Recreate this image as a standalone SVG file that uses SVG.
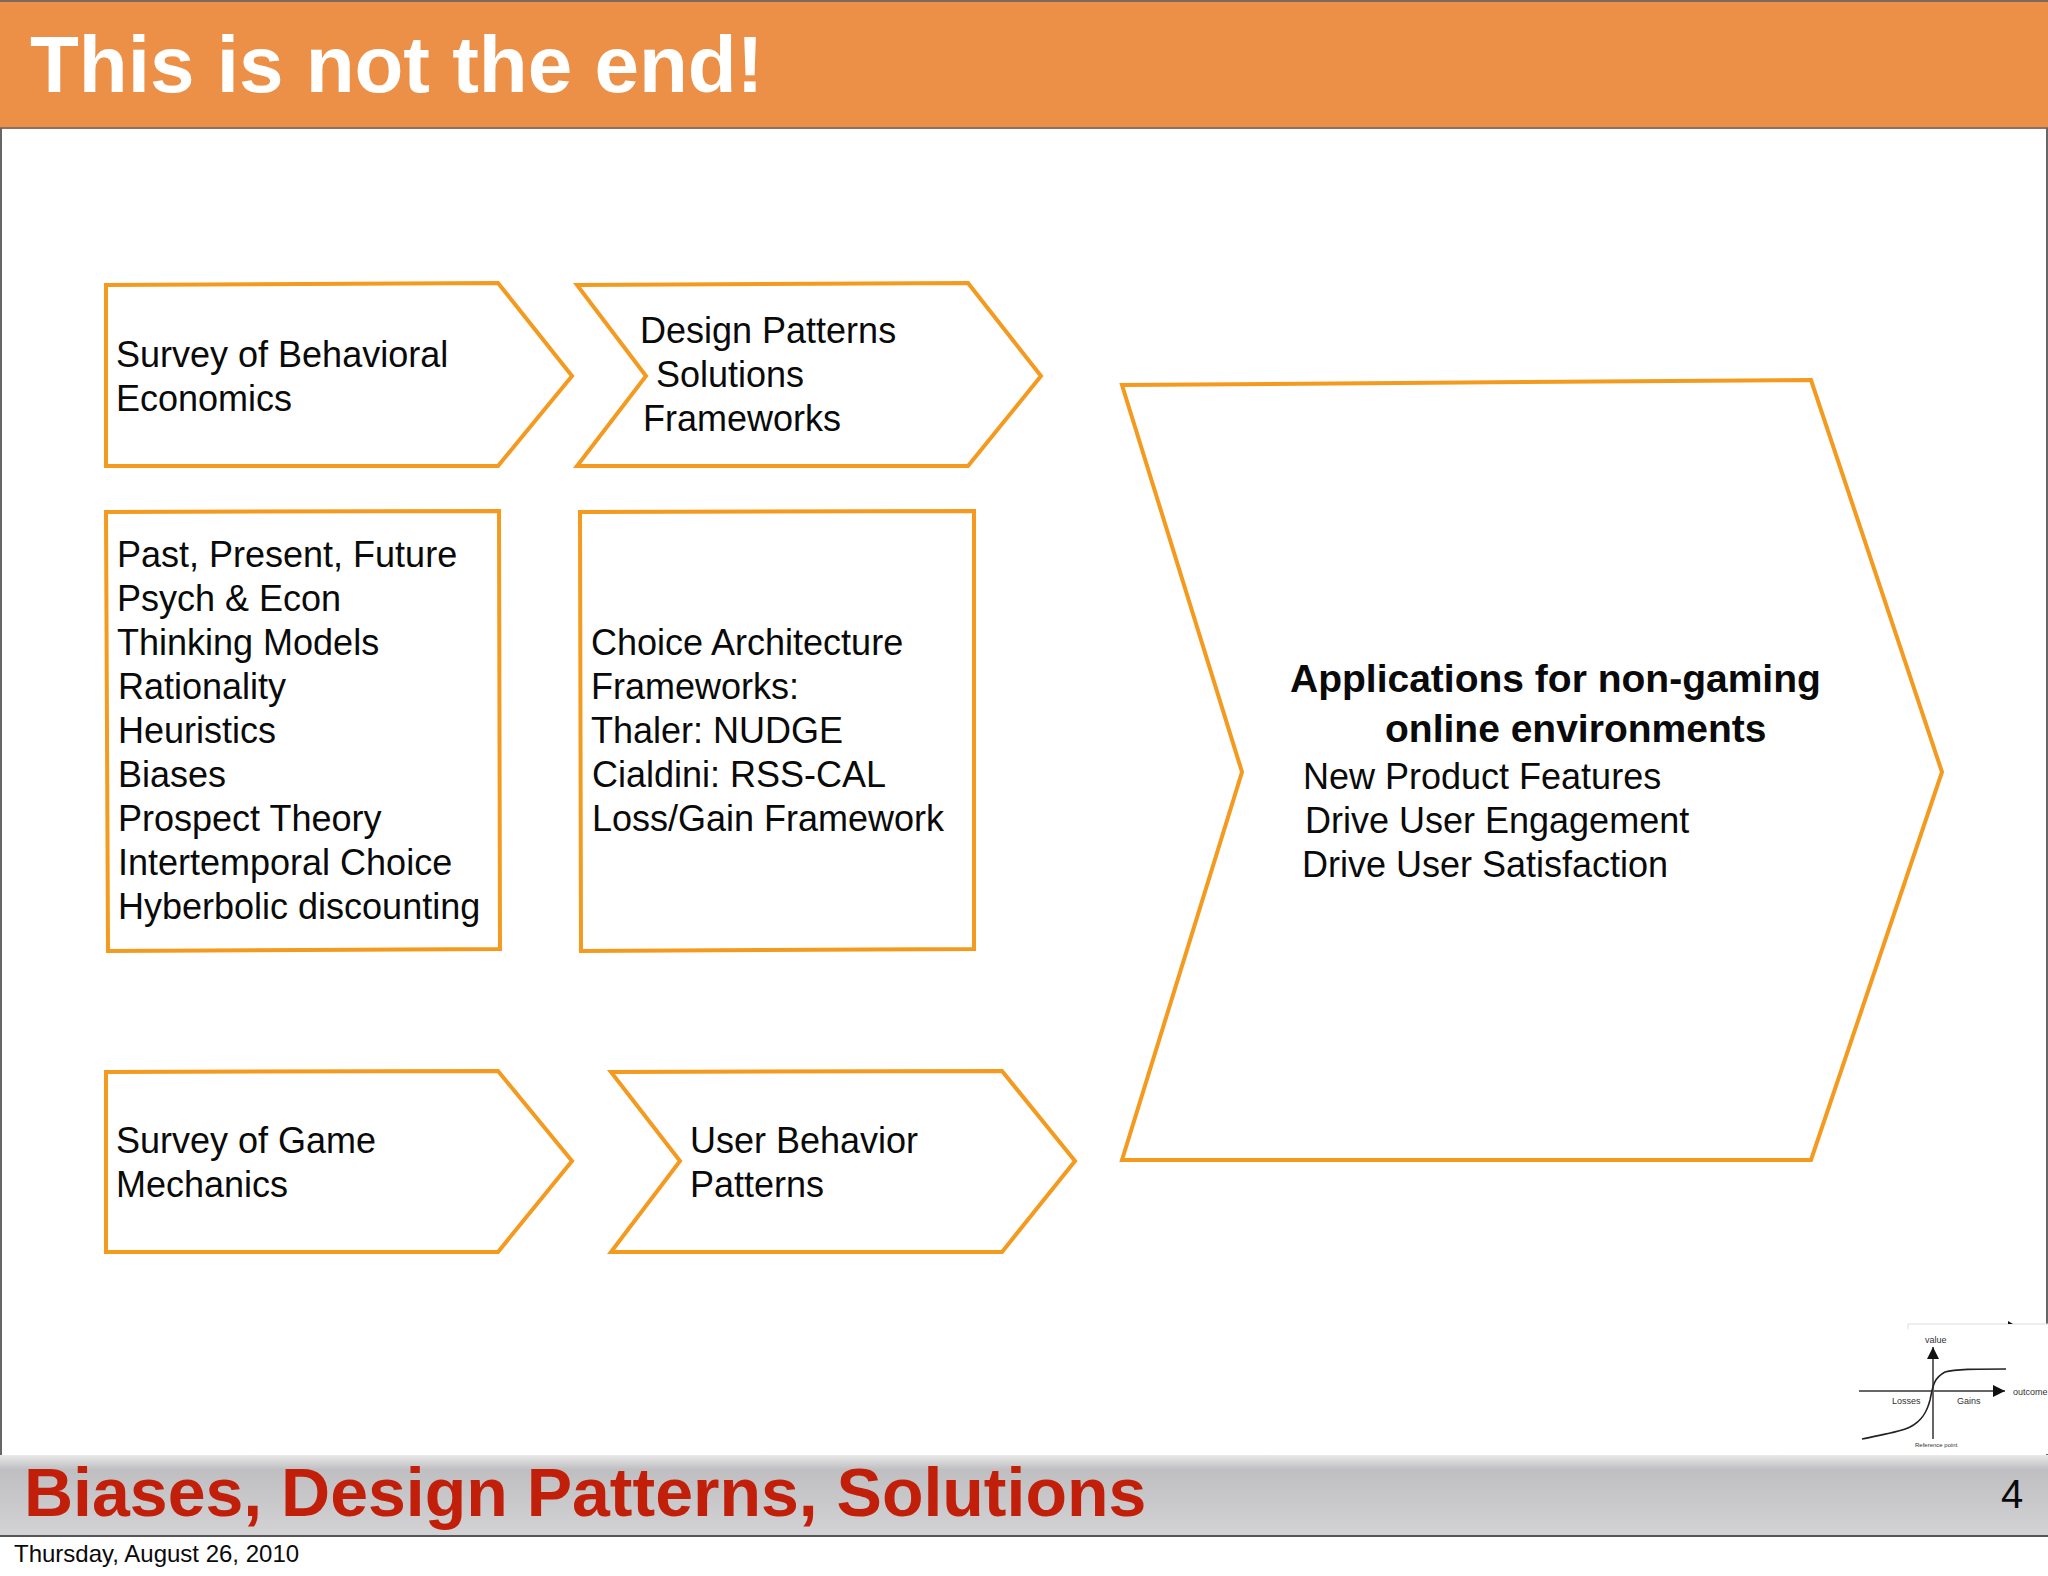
<svg xmlns="http://www.w3.org/2000/svg" width="2048" height="1576" viewBox="0 0 2048 1576">
<defs>
<linearGradient id="foot" x1="0" y1="0" x2="0" y2="1"><stop offset="0" stop-color="#e9e9ea"/><stop offset="0.18" stop-color="#bfbec0"/><stop offset="1" stop-color="#d3d2d5"/></linearGradient>
<marker id="tip" markerWidth="8" markerHeight="8" refX="6" refY="3" orient="auto"><path d="M0 0L6 3L0 6Z" fill="#111"/></marker>
</defs>
<style>
text{font-family:"Liberation Sans",Arial,Helvetica,sans-serif;fill:#0a0a0a}
.t{font-size:36px}
.b{font-size:39px;font-weight:700}
.s{fill:#fff;stroke:#f39a1f;stroke-width:4;stroke-linejoin:miter}
.c{font-size:9px;fill:#333}
.ax{stroke:#666;stroke-width:2;fill:none}
</style>
<rect width="2048" height="1576" fill="#fff"/>
<g id="header">
<rect x="0" y="0" width="2048" height="128" fill="#ec9047"/>
<rect x="0" y="0" width="2048" height="2" fill="#7d6a5c"/>
<rect x="0" y="127" width="2048" height="2" fill="#8f6f62"/>
<text x="30" y="92" font-size="80" font-weight="700" style="fill:#fff">This is not the end!</text>
</g>
<rect x="0" y="128" width="2" height="1408" fill="#666"/>
<rect x="2046" y="128" width="2" height="1408" fill="#666"/>
<g id="node-survey-behavioral">
<path class="s" d="M106 285L498 283L572 376L498 466L106 466Z"/>
<text class="t" x="116" y="367">Survey of Behavioral</text>
<text class="t" x="116" y="411">Economics</text>
</g>
<g id="node-design-patterns">
<path class="s" d="M577 285L968 283L1041 376L968 466L577 466L646 376Z"/>
<text class="t" x="640" y="343">Design Patterns</text>
<text class="t" x="656" y="387">Solutions</text>
<text class="t" x="643" y="431">Frameworks</text>
</g>
<g id="node-past-present">
<path class="s" d="M106 512L499 511L500 949L108 951Z"/>
<text class="t" x="117" y="567">Past, Present, Future</text>
<text class="t" x="117" y="611">Psych &amp; Econ</text>
<text class="t" x="117" y="655">Thinking Models</text>
<text class="t" x="118" y="699">Rationality</text>
<text class="t" x="118" y="743">Heuristics</text>
<text class="t" x="118" y="787">Biases</text>
<text class="t" x="118" y="831">Prospect Theory</text>
<text class="t" x="118" y="875">Intertemporal Choice</text>
<text class="t" x="118" y="919">Hyberbolic discounting</text>
</g>
<g id="node-choice-architecture">
<path class="s" d="M580 512L974 511L974 949L581 951Z"/>
<text class="t" x="591" y="655">Choice Architecture</text>
<text class="t" x="591" y="699">Frameworks:</text>
<text class="t" x="591" y="743">Thaler: NUDGE</text>
<text class="t" x="592" y="787">Cialdini: RSS-CAL</text>
<text class="t" x="592" y="831">Loss/Gain Framework</text>
</g>
<g id="node-survey-game">
<path class="s" d="M106 1072L498 1071L572 1161L498 1252L106 1252Z"/>
<text class="t" x="116" y="1153">Survey of Game</text>
<text class="t" x="116" y="1197">Mechanics</text>
</g>
<g id="node-user-behavior">
<path class="s" d="M611 1072L1002 1071L1075 1161L1002 1252L611 1252L680 1161Z"/>
<text class="t" x="690" y="1153">User Behavior</text>
<text class="t" x="690" y="1197">Patterns</text>
</g>
<g id="node-applications">
<path class="s" d="M1122 385L1811 380L1942 772L1811 1160L1122 1160L1242 772Z"/>
<text class="b" x="1290" y="692">Applications for non-gaming</text>
<text class="b" x="1385" y="742">online environments</text>
<text class="t" x="1303" y="789">New Product Features</text>
<text class="t" x="1305" y="833">Drive User Engagement</text>
<text class="t" x="1302" y="877">Drive User Satisfaction</text>
</g>
<g id="footer">
<rect x="0" y="1455" width="2048" height="81" fill="url(#foot)"/>
<rect x="0" y="1535" width="2048" height="2" fill="#555"/>
<text x="24" y="1516" font-size="68" font-weight="700" style="fill:#c11f0a">Biases, Design Patterns, Solutions</text>
<text x="2001" y="1508" font-size="40">4</text>
<text x="14" y="1562" font-size="24">Thursday, August 26, 2010</text>
</g>
<g id="value-chart">
<rect x="1908" y="1324" width="140" height="130" fill="#fff"/>
<path d="M1908 1329V1324H2048" fill="none" stroke="#ddd" stroke-width="1"/>
<path d="M2008 1324L2008 1321L2013 1324Z" fill="#111"/>
<path class="ax" d="M1933 1439V1347" marker-end="url(#tip)"/>
<path class="ax" d="M1859 1391H2005" marker-end="url(#tip)"/>
<path d="M1862 1439C1885 1434 1900 1432 1910 1427C1922 1421 1927 1412 1930 1400C1933 1385 1934 1378 1945 1372C1955 1369 1975 1369 2006 1369" fill="none" stroke="#222" stroke-width="1.6"/>
<text class="c" x="1925" y="1343">value</text>
<text class="c" x="2013" y="1395">outcome</text>
<text class="c" x="1892" y="1404">Losses</text>
<text class="c" x="1957" y="1404">Gains</text>
<text class="c" x="1915" y="1447" style="font-size:6px">Reference point</text>
</g>
</svg>
